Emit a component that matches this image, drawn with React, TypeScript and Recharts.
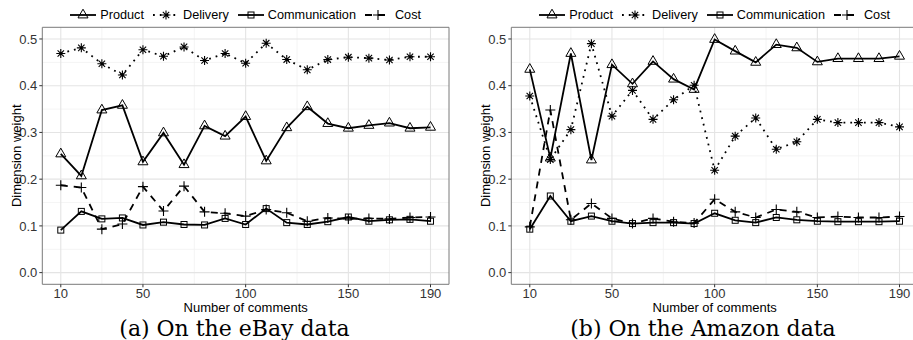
import React from 'react';
import { CartesianGrid, Line, LineChart, ReferenceArea, XAxis, YAxis } from 'recharts';

// number of comments used for each estimate
const commentCounts = [10, 20, 30, 40, 50, 60, 70, 80, 90, 100, 110, 120, 130, 140, 150, 160, 170, 180, 190];

// eBay
const ebayProduct = [0.254, 0.207, 0.348, 0.358, 0.237, 0.299, 0.231, 0.314, 0.292, 0.334, 0.239, 0.31, 0.355, 0.319, 0.309, 0.315, 0.32, 0.309, 0.311];
const ebayDelivery = [0.469, 0.481, 0.447, 0.423, 0.477, 0.463, 0.483, 0.454, 0.469, 0.448, 0.491, 0.456, 0.434, 0.456, 0.461, 0.459, 0.455, 0.462, 0.462];
const ebayCommunication = [0.091, 0.131, 0.115, 0.117, 0.102, 0.108, 0.103, 0.102, 0.116, 0.103, 0.137, 0.107, 0.103, 0.109, 0.119, 0.11, 0.113, 0.114, 0.11];
const ebayCost = [0.187, 0.182, 0.093, 0.104, 0.184, 0.132, 0.185, 0.13, 0.127, 0.121, 0.135, 0.128, 0.11, 0.117, 0.115, 0.116, 0.115, 0.118, 0.119];

// Amazon
const amazonProduct = [0.435, 0.245, 0.469, 0.241, 0.445, 0.404, 0.452, 0.414, 0.392, 0.499, 0.474, 0.45, 0.488, 0.481, 0.451, 0.458, 0.458, 0.458, 0.463];
const amazonDelivery = [0.378, 0.242, 0.306, 0.49, 0.335, 0.39, 0.328, 0.37, 0.401, 0.219, 0.292, 0.331, 0.264, 0.28, 0.328, 0.321, 0.321, 0.321, 0.312];
const amazonCommunication = [0.093, 0.164, 0.11, 0.121, 0.11, 0.105, 0.107, 0.107, 0.105, 0.127, 0.112, 0.107, 0.118, 0.113, 0.11, 0.109, 0.109, 0.109, 0.11];
const amazonCost = [0.098, 0.348, 0.113, 0.148, 0.116, 0.105, 0.116, 0.109, 0.106, 0.157, 0.13, 0.118, 0.135, 0.13, 0.118, 0.12, 0.118, 0.118, 0.12];

const xTicks = [10, 50, 100, 150, 190];
const xMinor = [30, 75, 125, 170];
const yTicks = [0, 0.1, 0.2, 0.3, 0.4, 0.5];
const yMinor = [0.05, 0.15, 0.25, 0.35, 0.45];
const xDomain: [number, number] = [1, 199];
const yDomain: [number, number] = [-0.025, 0.525];

const FONT = '"Liberation Sans", Arial, Helvetica, sans-serif';
const LINE_W = 1.8;

type MarkProps = { cx: number; cy: number };

const TriangleMark = ({ cx, cy }: MarkProps) => (
    <polygon
        points={`${cx},${cy - 5.8} ${cx - 5},${cy + 2.9} ${cx + 5},${cy + 2.9}`}
        fill="none"
        stroke="#000"
        strokeWidth={1}
        strokeDasharray="none"
    />
);

const StarMark = ({ cx, cy }: MarkProps) => (
    <path
        d={`M${cx - 4.5},${cy}H${cx + 4.5}M${cx},${cy - 4.5}V${cy + 4.5}M${cx - 3.2},${cy - 3.2}L${cx + 3.2},${cy + 3.2}M${cx - 3.2},${cy + 3.2}L${cx + 3.2},${cy - 3.2}`}
        fill="none"
        stroke="#000"
        strokeWidth={1.1}
        strokeDasharray="none"
    />
);

const SquareMark = ({ cx, cy }: MarkProps) => (
    <rect x={cx - 3} y={cy - 3} width={6} height={6} fill="none" stroke="#000" strokeWidth={1} strokeDasharray="none" />
);

const PlusMark = ({ cx, cy }: MarkProps) => (
    <path
        d={`M${cx - 5},${cy}H${cx + 5}M${cx},${cy - 5}V${cy + 5}`}
        fill="none"
        stroke="#000"
        strokeWidth={1.1}
        strokeDasharray="none"
    />
);

const seriesList = [
    { key: 'product', name: 'Product', dash: undefined as string | undefined, Mark: TriangleMark },
    { key: 'delivery', name: 'Delivery', dash: '1.8 5', Mark: StarMark },
    { key: 'communication', name: 'Communication', dash: undefined as string | undefined, Mark: SquareMark },
    { key: 'cost', name: 'Cost', dash: '7 6', Mark: PlusMark },
];

const buildRows = (product: number[], delivery: number[], communication: number[], cost: number[]) =>
    commentCounts.map((n, i) => ({
        n,
        product: product[i],
        delivery: delivery[i],
        communication: communication[i],
        cost: cost[i],
    }));

const ebayRows = buildRows(ebayProduct, ebayDelivery, ebayCommunication, ebayCost);
const amazonRows = buildRows(amazonProduct, amazonDelivery, amazonCommunication, amazonCost);

const CHART_W = 460;
const CHART_H = 340;
const Y_AXIS_W = 42.3;
const X_AXIS_H = 27.5;
const MARGIN = { top: 27.3, right: 11, bottom: 28.2, left: 0 };

const KeyLegend = ({ left, width }: { left: number; width: number }) => (
    <div
        style={{
            position: 'absolute',
            left,
            top: 6,
            width,
            height: 17,
            display: 'flex',
            justifyContent: 'center',
            alignItems: 'center',
            fontFamily: FONT,
            fontSize: 12.7,
            color: '#000',
            whiteSpace: 'nowrap',
        }}
    >
        {seriesList.map((s, i) => (
            <div key={s.key} style={{ display: 'flex', alignItems: 'center', marginRight: i < seriesList.length - 1 ? 9 : 0 }}>
                <svg width={26} height={14} style={{ marginRight: 4, overflow: 'visible' }}>
                    <line x1={0} x2={26} y1={7} y2={7} stroke="#000" strokeWidth={LINE_W} strokeDasharray={s.dash} />
                    <s.Mark cx={13} cy={7} />
                </svg>
                <span>{s.name}</span>
            </div>
        ))}
    </div>
);

type PanelProps = {
    left: number;
    rows: typeof ebayRows;
};

const Panel = ({ left, rows }: PanelProps) => {
    const plotLeft = left + Y_AXIS_W;
    const plotWidth = CHART_W - Y_AXIS_W - MARGIN.right;
    return (
        <>
            <KeyLegend left={plotLeft} width={plotWidth} />
            <div style={{ position: 'absolute', left, top: 0 }}>
                <LineChart width={CHART_W} height={CHART_H} data={rows} margin={MARGIN}>
                    <CartesianGrid
                        horizontalValues={yMinor}
                        verticalValues={xMinor}
                        stroke="#f1f1f1"
                        strokeWidth={0.8}
                    />
                    <CartesianGrid
                        horizontalValues={yTicks}
                        verticalValues={xTicks}
                        stroke="#e4e4e4"
                        strokeWidth={1.1}
                    />
                    <XAxis
                        dataKey="n"
                        type="number"
                        domain={xDomain}
                        ticks={xTicks}
                        interval={0}
                        height={X_AXIS_H}
                        axisLine={false}
                        tickSize={3}
                        tickMargin={1.5}
                        tickLine={{ stroke: '#333' }}
                        tick={{ fill: '#333', fontSize: 13, fontFamily: FONT }}
                        label={{
                            value: 'Number of comments',
                            position: 'insideBottom',
                            offset: 0,
                            fill: '#000',
                            fontSize: 13,
                            fontFamily: FONT,
                        }}
                    />
                    <YAxis
                        type="number"
                        domain={yDomain}
                        ticks={yTicks}
                        interval={0}
                        width={Y_AXIS_W}
                        axisLine={false}
                        tickSize={3}
                        tickMargin={2}
                        tickLine={{ stroke: '#333' }}
                        tick={{ fill: '#333', fontSize: 13, fontFamily: FONT }}
                        tickFormatter={(v: number) => v.toFixed(1)}
                        label={{
                            value: 'Dimension weight',
                            angle: -90,
                            position: 'insideLeft',
                            offset: 16,
                            fill: '#000',
                            fontSize: 13,
                            fontFamily: FONT,
                            style: { textAnchor: 'middle' },
                        }}
                    />
                    {seriesList.map((s) => (
                        <Line
                            key={s.key}
                            type="linear"
                            dataKey={s.key}
                            name={s.name}
                            stroke="#000"
                            strokeWidth={LINE_W}
                            strokeDasharray={s.dash}
                            dot={(p: any) => <s.Mark key={`${s.key}-${p.index}`} cx={p.cx} cy={p.cy} />}
                            activeDot={false}
                            isAnimationActive={false}
                        />
                    ))}
                    <ReferenceArea
                        x1={xDomain[0]}
                        x2={xDomain[1]}
                        y1={yDomain[0]}
                        y2={yDomain[1]}
                        fill="none"
                        stroke="#7a7a7a"
                        strokeWidth={1}
                    />
                </LineChart>
            </div>
        </>
    );
};

const App = () => {
    return (
        <div
            style={{
                position: 'absolute',
                left: 0,
                top: 0,
                width: 913,
                height: 340,
                overflow: 'hidden',
                background: '#fff',
            }}
        >
            <Panel left={0} rows={ebayRows} />
            <Panel left={469} rows={amazonRows} />
            <svg width={913} height={340} style={{ position: 'absolute', left: 0, top: 0, pointerEvents: 'none' }}>
                <text x={234.5} y={335.5} textAnchor="middle" fontFamily='"DejaVu Serif", serif' fontSize={22} fill="#000">
                    (a) On the eBay data
                </text>
                <text x={703} y={335.5} textAnchor="middle" fontFamily='"DejaVu Serif", serif' fontSize={22} fill="#000">
                    (b) On the Amazon data
                </text>
            </svg>
        </div>
    );
};

export default App;
